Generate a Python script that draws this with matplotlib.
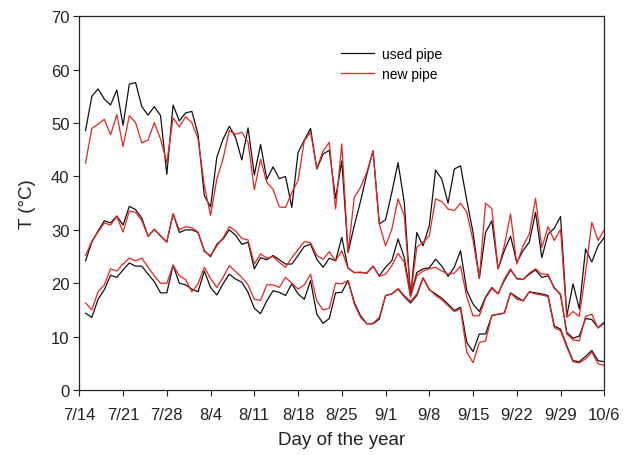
import matplotlib
matplotlib.use("Agg")
import matplotlib.pyplot as plt
import numpy as np

plt.rcParams['font.family'] = ['Liberation Sans', 'DejaVu Sans']

# Daily pipe temperatures (deg C), days counted from 7/14
max_used = [48.6, 55.0, 56.4, 54.5, 53.4, 56.2, 49.6, 57.3, 57.6, 53.1,
            51.5, 53.1, 51.4, 40.4, 53.4, 50.4, 51.9, 52.2, 47.9, 36.4,
            34.3, 43.6, 47.0, 49.4, 47.3, 43.1, 49.1, 40.3, 46.0, 39.5,
            41.8, 39.6, 40.0, 34.2, 44.5, 46.8, 49.0, 41.4, 44.2, 44.9,
            35.9, 42.9, 25.8, 30.8, 35.4, 40.4, 44.8, 31.1, 31.9, 37.0,
            42.6, 35.1, 17.7, 29.5, 27.0, 30.8, 41.2, 39.5, 35.0, 41.4,
            42.0, 35.5, 29.5, 20.9, 29.5, 31.7, 22.7, 26.1, 28.8, 23.9,
            26.1, 27.7, 33.3, 24.8, 29.2, 30.3, 32.5, 13.9, 19.9, 15.2,
            26.4, 24.0, 27.0, 28.6]
max_new = [42.5, 49.0, 49.8, 50.7, 47.8, 51.6, 45.6, 51.4, 50.1, 46.3,
           46.8, 50.1, 47.0, 42.6, 51.0, 49.3, 51.2, 50.1, 47.0, 38.3,
           32.7, 39.5, 43.3, 48.6, 47.9, 48.3, 46.4, 37.5, 43.2, 38.9,
           37.6, 34.3, 34.2, 37.0, 39.2, 46.7, 48.3, 41.5, 44.8, 46.4,
           33.9, 46.1, 25.8, 36.1, 38.0, 40.8, 44.8, 31.1, 27.0, 30.1,
           35.8, 32.6, 17.7, 26.7, 27.7, 28.9, 35.8, 35.3, 33.9, 33.6,
           35.0, 33.3, 28.0, 20.9, 35.0, 34.0, 22.7, 27.0, 33.0, 23.6,
           27.0, 29.2, 35.9, 26.7, 30.6, 28.0, 30.1, 13.6, 14.7, 13.8,
           22.0, 31.4, 28.0, 30.0]
mean_used = [24.2, 27.7, 29.8, 31.7, 31.3, 32.6, 30.9, 34.4, 33.8, 32.2,
             28.8, 30.1, 28.9, 27.7, 33.0, 29.5, 30.0, 30.0, 29.5, 26.1,
             25.0, 27.3, 28.3, 30.0, 29.0, 27.3, 27.7, 22.7, 24.8, 24.4,
             25.2, 24.4, 23.6, 23.6, 25.2, 26.9, 27.3, 24.5, 23.0, 24.7,
             24.2, 28.6, 22.8, 22.0, 22.0, 21.9, 23.2, 21.4, 23.0, 24.2,
             28.3, 24.8, 17.7, 22.0, 22.7, 22.9, 24.5, 23.2, 21.3, 23.0,
             26.1, 18.6, 16.1, 14.7, 17.4, 19.2, 18.0, 20.5, 22.5, 20.9,
             20.7, 21.7, 22.5, 21.1, 21.4, 19.2, 17.8, 10.8, 9.7, 10.1,
             13.4, 13.2, 11.7, 12.7]
mean_new = [25.2, 27.9, 29.6, 31.3, 30.9, 32.5, 29.6, 33.5, 33.3, 31.7,
            28.8, 30.1, 28.8, 27.8, 33.0, 30.0, 30.6, 30.4, 29.6, 25.9,
            25.2, 27.0, 28.5, 30.6, 29.8, 28.4, 28.1, 23.6, 25.5, 24.7,
            25.0, 23.9, 23.0, 24.8, 26.3, 27.8, 27.6, 25.2, 24.5, 25.9,
            24.2, 26.1, 22.8, 22.0, 22.1, 21.9, 23.2, 21.3, 21.7, 23.3,
            25.6, 23.9, 17.4, 21.4, 22.3, 22.7, 23.0, 22.3, 21.7, 21.9,
            23.2, 17.4, 13.9, 13.9, 17.2, 19.0, 18.0, 20.8, 22.7, 20.8,
            20.7, 21.9, 22.7, 21.7, 21.7, 19.0, 18.0, 10.5, 9.4, 9.2,
            13.8, 14.2, 11.6, 12.5]
min_used = [14.4, 13.6, 17.0, 18.8, 21.5, 21.1, 22.5, 23.8, 23.2, 23.2,
            21.7, 20.3, 18.2, 18.2, 23.4, 20.0, 19.7, 18.9, 18.4, 22.3,
            19.2, 17.8, 19.9, 21.7, 20.8, 20.2, 18.3, 15.3, 14.3, 16.7,
            18.6, 18.3, 17.7, 19.9, 18.0, 17.0, 20.5, 14.2, 12.5, 13.4,
            18.2, 18.3, 20.5, 16.4, 13.9, 12.4, 12.4, 13.3, 17.7, 18.0,
            18.9, 17.5, 16.3, 17.7, 21.0, 18.8, 18.0, 17.2, 16.1, 14.9,
            15.5, 8.9, 7.2, 10.5, 10.5, 13.9, 14.2, 14.4, 18.2, 17.4,
            16.7, 18.4, 18.2, 18.0, 17.7, 12.0, 11.4, 8.3, 5.5, 5.3,
            6.3, 7.4, 5.5, 5.3]
min_new = [16.3, 15.0, 18.4, 19.7, 22.7, 22.3, 23.6, 24.7, 24.2, 24.7,
           23.0, 21.4, 20.0, 20.0, 23.4, 21.4, 20.7, 18.4, 19.9, 23.0,
           20.9, 19.2, 21.1, 23.3, 22.2, 21.1, 19.7, 17.0, 16.8, 19.7,
           19.7, 19.2, 21.1, 20.0, 18.9, 19.7, 21.7, 16.7, 15.0, 15.3,
           20.0, 19.9, 20.5, 16.1, 13.6, 12.4, 12.5, 13.6, 17.7, 18.0,
           19.0, 17.7, 16.6, 18.0, 21.0, 18.9, 17.7, 16.9, 15.8, 14.7,
           15.2, 7.1, 5.1, 8.9, 9.2, 14.0, 14.2, 14.4, 18.2, 17.0,
           16.7, 18.4, 18.0, 17.8, 17.5, 11.7, 11.1, 8.0, 5.3, 5.1,
           5.8, 7.1, 4.9, 4.6]

days = np.arange(1, len(max_used) + 1)
tick_days = np.arange(0, 85, 7)
tick_labels = ['7/14', '7/21', '7/28', '8/4', '8/11', '8/18', '8/25',
               '9/1', '9/8', '9/15', '9/22', '9/29', '10/6']

black = '#111111'
red = '#e4261f'
lw = 0.9

fig = plt.figure(figsize=(6.27, 4.56), dpi=100)
ax = fig.add_axes([0.1265, 0.1425, 0.8373, 0.8195])

ax.plot(days, max_used, color=black, lw=lw, label='used pipe')
ax.plot(days, max_new, color=red, lw=lw, label='new pipe')
ax.plot(days, mean_used, color=black, lw=lw)
ax.plot(days, mean_new, color=red, lw=lw)
ax.plot(days, min_used, color=black, lw=lw)
ax.plot(days, min_new, color=red, lw=lw)

ax.set_xlim(0, 84)
ax.set_ylim(0, 70)
ax.set_xticks(tick_days)
ax.set_xticklabels(tick_labels)
ax.set_yticks(np.arange(0, 71, 10))
ax.tick_params(direction='out', length=4, width=0.8, labelsize=12,
               colors='#222222', pad=8)
ax.tick_params(axis='y', pad=3)
for s in ax.spines.values():
    s.set_linewidth(0.9)
    s.set_color('#222222')

ax.set_xlabel('Day of the year', fontsize=13.5, color='#222222', labelpad=7)
ax.set_ylabel('T (\u00b0C)', fontsize=13.5, color='#222222', labelpad=11)

ax.legend(loc='upper left', bbox_to_anchor=(0.498, 0.918), frameon=False,
          fontsize=10, handlelength=2.4, handletextpad=0.6,
          labelspacing=0.45, borderpad=0, borderaxespad=0)

fig.savefig('out.png', dpi=100)
